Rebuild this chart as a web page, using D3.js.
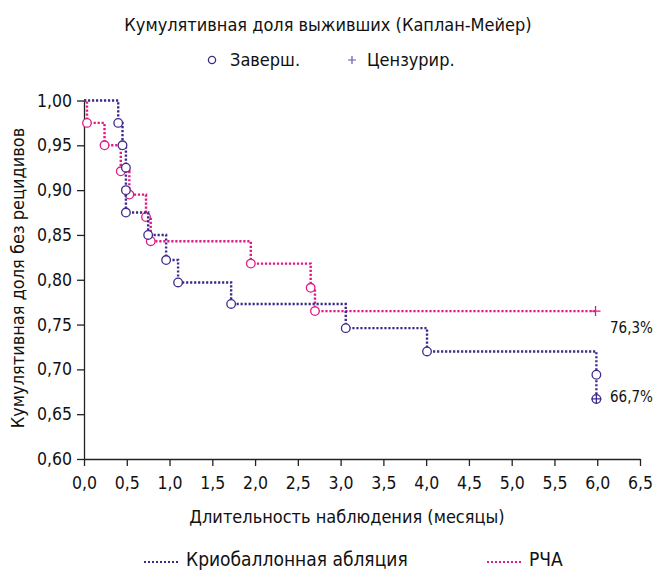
<!DOCTYPE html>
<html>
<head>
<meta charset="utf-8">
<script src="https://cdn.jsdelivr.net/npm/d3@7"></script>
<style>
	body { margin: 0; background: #fff; }
	svg text { font-family: "Liberation Sans Narrow", "DejaVu Sans Condensed", "Roboto", sans-serif; fill: #111; }
</style>
</head>
<body>
<div id="chart"></div>
<script>
var PURPLE = "#3f2a8c";
var PINK = "#e01a86";

// Криобаллонная абляция: event times (months) and survival after each event
var cryoTimes = [0, 0.40, 0.45, 0.49, 0.49, 0.49, 0.75, 0.96, 1.10, 1.72, 3.06, 4.01, 5.99, 5.99];
var cryoValues = [1.0, 0.975, 0.950, 0.925, 0.900, 0.875, 0.850, 0.822, 0.797, 0.773, 0.746, 0.720, 0.694, 0.667];
var cryoCensored = [[5.99, 0.667]];

// РЧА
var rfaTimes = [0, 0.035, 0.24, 0.43, 0.53, 0.725, 0.78, 1.95, 2.65, 2.70, 5.98];
var rfaValues = [1.0, 0.975, 0.950, 0.921, 0.895, 0.870, 0.843, 0.818, 0.791, 0.765, 0.765];
var rfaEvents = 9; // last point is censoring only
var rfaCensored = [[5.98, 0.765]];

var xTicks = [0, 0.5, 1, 1.5, 2, 2.5, 3, 3.5, 4, 4.5, 5, 5.5, 6, 6.5];
var yTicks = [0.60, 0.65, 0.70, 0.75, 0.80, 0.85, 0.90, 0.95, 1.00];

var endLabels = [
	{ text: "76,3%", t: 6.5, v: 0.763, dy: 20 },
	{ text: "66,7%", t: 6.5, v: 0.667, dy: 3 }
];

var width = 654, height = 570;

var svg = d3.select("#chart").append("svg")
	.attr("width", width)
	.attr("height", height);

var x = d3.scaleLinear().domain([0, 6.5]).range([84, 640]);
var y = d3.scaleLinear().domain([0.6, 1.0]).range([459, 100.5]);

var fmt = function(d) { return d3.format(".1f")(d).replace(".", ","); };
var fmtY = function(d) { return d3.format(".2f")(d).replace(".", ","); };

//axes
var xAxis = svg.append("g")
	.attr("transform", "translate(0," + y(0.6) + ")")
	.call(d3.axisBottom(x).tickValues(xTicks).tickFormat(fmt).tickSize(7).tickSizeOuter(0).tickPadding(11));

var yAxis = svg.append("g")
	.attr("transform", "translate(" + x(0) + ",0)")
	.call(d3.axisLeft(y).tickValues(yTicks).tickFormat(fmtY).tickSize(7).tickSizeOuter(0).tickPadding(5));

svg.selectAll(".domain, .tick line")
	.attr("stroke", "#222")
	.attr("stroke-width", 1.3);
svg.selectAll(".tick text")
	.attr("font-size", 17.5)
	.attr("font-family", null);

//axis titles
svg.append("text")
	.attr("x", 347)
	.attr("y", 523)
	.attr("text-anchor", "middle")
	.attr("font-size", 18)
	.text("Длительность наблюдения (месяцы)");

svg.append("text")
	.attr("transform", "translate(24,278) rotate(-90)")
	.attr("text-anchor", "middle")
	.attr("font-size", 18)
	.text("Кумулятивная доля без рецидивов");

svg.append("text")
	.attr("x", 328)
	.attr("y", 31)
	.attr("text-anchor", "middle")
	.attr("font-size", 18)
	.text("Кумулятивная доля выживших (Каплан-Мейер)");

//top legend
svg.append("circle")
	.attr("cx", 212).attr("cy", 60).attr("r", 3.6)
	.attr("fill", "none").attr("stroke", PURPLE).attr("stroke-width", 1.3);
svg.append("text")
	.attr("x", 230).attr("y", 66)
	.attr("font-size", 18)
	.text("Заверш.");
svg.append("path")
	.attr("d", "M" + 348 + "," + 60 + "h8M" + 352 + "," + 56 + "v8")
	.attr("stroke", "#6a55b0").attr("stroke-width", 1.2);
svg.append("text")
	.attr("x", 367).attr("y", 66)
	.attr("font-size", 18)
	.text("Цензурир.");

//curves
var line = d3.line()
	.x(function(d) { return x(d[0]); })
	.y(function(d) { return y(d[1]); })
	.curve(d3.curveStepAfter);

function drawSeries(times, values, nEvents, censored, color) {
	var pts = times.map(function(t, i) { return [t, values[i]]; });
	svg.append("path")
		.datum(pts)
		.attr("d", line)
		.attr("fill", "none")
		.attr("stroke", color)
		.attr("stroke-width", 2.4)
		.attr("stroke-dasharray", "2.2,1.8");

	svg.append("g")
		.selectAll("circle")
		.data(pts.slice(1, nEvents + 1))
		.enter().append("circle")
		.attr("cx", function(d) { return x(d[0]); })
		.attr("cy", function(d) { return y(d[1]); })
		.attr("r", 4.3)
		.attr("fill", "#fff")
		.attr("stroke", color)
		.attr("stroke-width", 1.3);

	svg.append("g")
		.selectAll("path")
		.data(censored)
		.enter().append("path")
		.attr("d", function(d) {
			var cx = x(d[0]), cy = y(d[1]);
			return "M" + (cx - 5) + "," + cy + "h10M" + cx + "," + (cy - 5) + "v10";
		})
		.attr("stroke", color)
		.attr("stroke-width", 1.3);
}

drawSeries(rfaTimes, rfaValues, rfaEvents, rfaCensored, PINK);
drawSeries(cryoTimes, cryoValues, cryoTimes.length - 1, cryoCensored, PURPLE);

//end labels
svg.append("g")
	.selectAll("text")
	.data(endLabels)
	.enter().append("text")
	.attr("x", function(d) { return x(d.t) - 30; })
	.attr("y", function(d) { return y(d.v) + d.dy; })
	.attr("font-size", 15)
	.text(function(d) { return d.text; });

//bottom legend
var legendItems = [
	{ name: "Криобаллонная абляция", color: PURPLE, x: 144 },
	{ name: "РЧА", color: PINK, x: 487 }
];
var lg = svg.append("g")
	.selectAll("g")
	.data(legendItems)
	.enter().append("g")
	.attr("transform", function(d) { return "translate(" + d.x + ",562)"; });
lg.append("line")
	.attr("x1", 0).attr("x2", 36)
	.attr("stroke", function(d) { return d.color; })
	.attr("stroke-width", 2)
	.attr("stroke-dasharray", "2,2");
lg.append("text")
	.attr("x", 42).attr("y", 4)
	.attr("font-size", 19)
	.text(function(d) { return d.name; });
</script>
</body>
</html>
